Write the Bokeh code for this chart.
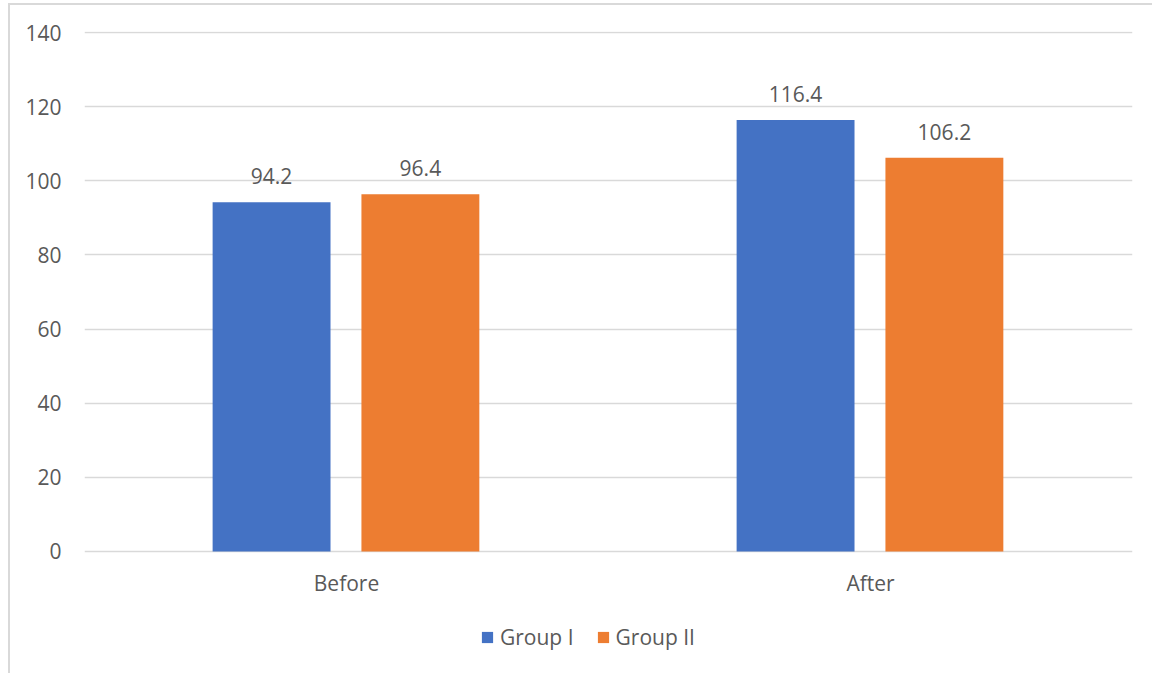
from bokeh.plotting import figure
from bokeh.models import FactorRange, ColumnDataSource, LabelSet, Legend, LegendItem, FixedTicker
from bokeh.core.properties import value
from bokeh.transform import dodge
from bokeh.embed import file_html
from bokeh.resources import INLINE

categories = ["Before", "After"]
group1 = [94.2, 116.4]
group2 = [96.4, 106.2]
series_names = ["Group I", "Group II"]
y_ticks = [0, 20, 40, 60, 80, 100, 120, 140]

BLUE = "#4472C4"
ORANGE = "#ED7D31"
TXT = "#595959"
GRID = "#d9d9d9"
FONT = "Open Sans"
FS = "21px"

src = ColumnDataSource(dict(
    cat=categories,
    g1=group1, g2=group2,
    l1=[f"{v:.1f}" for v in group1],
    l2=[f"{v:.1f}" for v in group2],
))

p = figure(x_range=FactorRange(*categories), y_range=(-31.6, 140.3),
           frame_width=1048, frame_height=637, output_backend="svg", toolbar_location=None,
           min_border_left=74, min_border_right=20, min_border_top=26, min_border_bottom=5,
           styles={"margin-left": "8px", "margin-top": "3px",
                   "border-top": "2px solid #d9d9d9", "border-left": "2px solid #d9d9d9"})
p.x_range.range_padding = 0
p.outline_line_color = None

r1 = p.vbar(x=dodge("cat", -0.143, range=p.x_range), top="g1", width=0.225, source=src,
            fill_color=BLUE, line_color=None)
r2 = p.vbar(x=dodge("cat", 0.141, range=p.x_range), top="g2", width=0.225, source=src,
            fill_color=ORANGE, line_color=None)

for xoff, col in [(-0.143, "l1"), (0.141, "l2")]:
    lab = LabelSet(x=dodge("cat", xoff, range=p.x_range), y=col.replace("l", "g"), text=col,
                   source=src, text_align="center", text_baseline="alphabetic", y_offset=18,
                   text_font=value(FONT), text_font_size=FS, text_color=TXT)
    p.add_layout(lab)

p.yaxis.ticker = FixedTicker(ticks=y_ticks)
for ax in (p.xaxis[0], p.yaxis[0]):
    ax.axis_line_color = None
    ax.major_tick_line_color = None
    ax.minor_tick_line_color = None
    ax.major_label_text_font = FONT
    ax.major_label_text_font_size = FS
    ax.major_label_text_color = TXT
p.yaxis.major_label_standoff = 17
p.xaxis.fixed_location = 0
p.xaxis.major_label_standoff = 12

p.xgrid.grid_line_color = None
p.ygrid.grid_line_color = GRID
p.ygrid.grid_line_width = 1.5

legend = Legend(items=[LegendItem(label=series_names[0], renderers=[r1]),
                       LegendItem(label=series_names[1], renderers=[r2])],
                orientation="horizontal", location=(396, 17),
                label_text_font=FONT, label_text_font_size=FS, label_text_color=TXT,
                glyph_width=14, glyph_height=14, label_standoff=6, spacing=22,
                border_line_color=None, background_fill_alpha=0, margin=0, padding=6)
p.add_layout(legend)

open("out.html", "w").write(file_html(p, INLINE))
